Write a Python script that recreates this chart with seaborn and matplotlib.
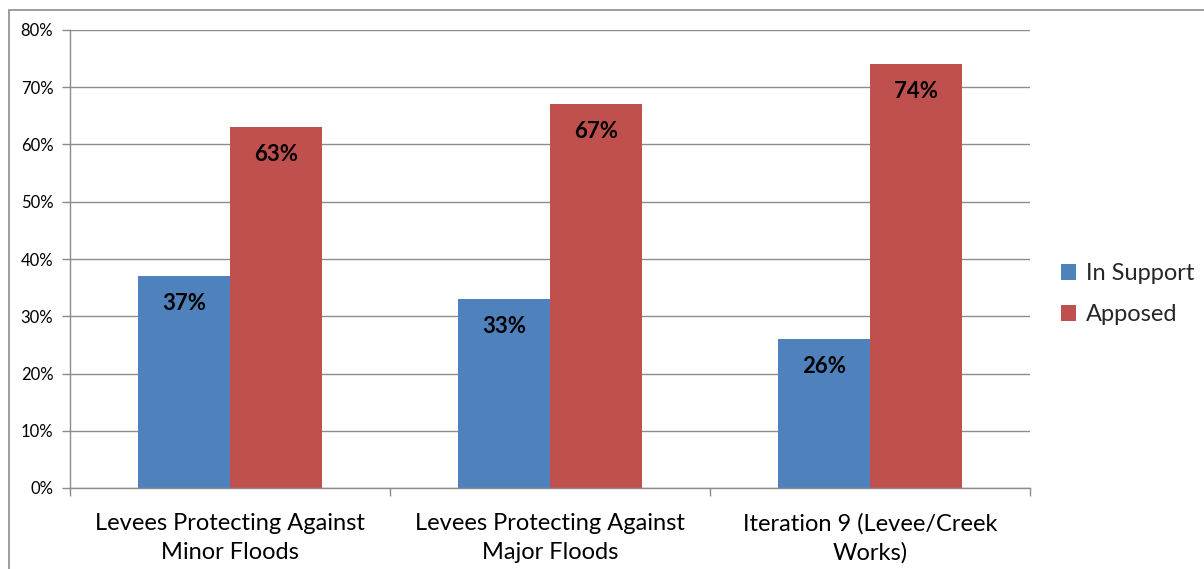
import matplotlib
matplotlib.use("Agg")
import matplotlib.pyplot as plt
from matplotlib.patches import Rectangle
from matplotlib.ticker import MultipleLocator, FuncFormatter
import seaborn as sns
import pandas as pd

categories = ["Levees Protecting Against\nMinor Floods",
              "Levees Protecting Against\nMajor Floods",
              "Iteration 9 (Levee/Creek\nWorks)"]
series_names = ["In Support", "Apposed"]
in_support = [37, 33, 26]
apposed = [63, 67, 74]
colors = ["#4F81BD", "#C0504D"]

df = pd.DataFrame({
    "category": categories * 2,
    "group": [series_names[0]] * 3 + [series_names[1]] * 3,
    "value": in_support + apposed,
})

sns.set_theme(style="white")
plt.rcParams["font.family"] = ["Lato", "DejaVu Sans"]

fig = plt.figure(figsize=(12.04, 5.69), dpi=100)
ax = fig.add_axes([70 / 1204, 81 / 569, 960 / 1204, 458 / 569])

sns.barplot(data=df, x="category", y="value", hue="group",
            palette=colors, width=0.575, saturation=1, ax=ax,
            edgecolor="none", linewidth=0)

ax.set_ylim(0, 80)
ax.set_xlim(-0.5, 2.5)
ax.yaxis.set_major_locator(MultipleLocator(10))
ax.yaxis.set_major_formatter(FuncFormatter(lambda v, p: f"{int(v)}%"))
ax.grid(axis="y", color="#8C8C8C", linewidth=1)
ax.set_axisbelow(True)
ax.set_xlabel("")
ax.set_ylabel("")

grey = "#8C8C8C"
for s in ["top", "right"]:
    ax.spines[s].set_visible(False)
for s in ["left", "bottom"]:
    ax.spines[s].set_color(grey)
    ax.spines[s].set_linewidth(1)

ax.tick_params(axis="y", left=True, length=6, width=1, color=grey,
               labelsize=12, pad=6, labelcolor="black")
ax.tick_params(axis="x", bottom=False, labelsize=17, pad=12, labelcolor="black")
ax.set_xticks(range(len(categories)))
ax.set_xticklabels(categories, linespacing=1.45)
ax.set_xticks([-0.5, 0.5, 1.5, 2.5], minor=True)
ax.tick_params(axis="x", which="minor", bottom=True, length=6, width=1,
               color=grey)

# value labels just inside the top of each bar
for container in ax.containers:
    for bar in container:
        h = bar.get_height()
        ax.annotate(f"{h:.0f}%", (bar.get_x() + bar.get_width() / 2, h),
                    xytext=(0, -12), textcoords="offset points",
                    ha="center", va="top", fontsize=16, fontweight="bold",
                    color="black")

handles, labels = ax.get_legend_handles_labels()
ax.legend(handles, labels, loc="center left",
          bbox_to_anchor=(1061 / 1204, (569 - 294) / 569),
          bbox_transform=fig.transFigure, frameon=False, fontsize=17,
          handlelength=0.65, handleheight=0.65, handletextpad=0.4,
          labelspacing=0.85, borderpad=0, borderaxespad=0)

fig.patches.append(Rectangle((9 / 1204, -0.1), 2, 559 / 569 + 0.1,
                             transform=fig.transFigure, fill=False,
                             edgecolor="#8C8C8C", linewidth=1.2))

fig.savefig("out.png", dpi=100)
